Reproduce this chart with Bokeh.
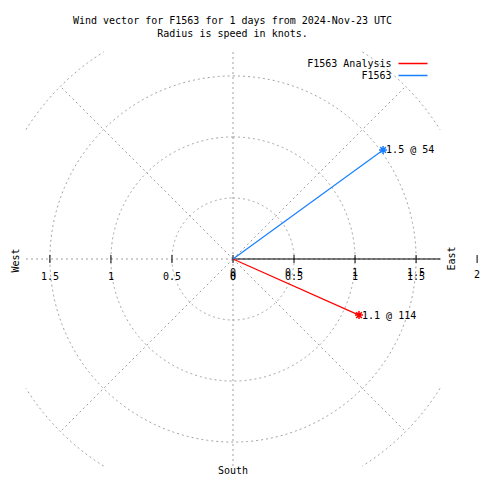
import numpy as np
from bokeh.plotting import figure
from bokeh.core.properties import value
from bokeh.embed import file_html
from bokeh.resources import INLINE

# ---- data ----
series_names = ["F1563 Analysis", "F1563"]
series_colors = ["#ff0000", "#1a80ff"]
speeds = [1.13, 1.52]          # knots
directions = [114, 54]         # degrees, from north clockwise
label_speeds = [1.1, 1.5]
ring_values = [0.5, 1.0, 1.5, 2.0]
spoke_angles = [0, 45, 90, 135, 180, 225, 270, 315]
left_ticks = [-1.5, -1.0, -0.5, 0.0]
left_tick_labels = ["1.5", "1", "0.5", "0"]
right_ticks = [0.0, 0.5, 1.0, 1.5]
right_tick_labels = ["0", "0.5", "1", "1.5"]
r_axis_tick = [2.0]
r_axis_tick_label = ["2"]
title_lines = ["Wind vector for F1563 for 1 days from 2024-Nov-23 UTC",
               "Radius is speed in knots."]
compass_labels = ["West", "East", "South"]

FONT = "DejaVu Sans Mono"
FS = "10px"
GRID = "#a0a0a0"
BOX = 1.7  # plot box half-size in knots

# layout: 122.06 px per knot, centre at canvas pixel (232.5, 258.5)
S = 415 / 3.4
CX, CY = 232.5, 258.5
W = H = 480
def dx(px):
    return (px - CX) / S
def dy(py):
    return (CY - py) / S

p = figure(width=W, height=H, x_range=(dx(0), dx(W)), y_range=(dy(H), dy(0)),
           toolbar_location=None, output_backend="svg",
           x_axis_location=None, y_axis_location=None, min_border=0)
p.grid.visible = False
p.outline_line_color = None
p.background_fill_color = "white"

# rings, clipped to the plot box
t = np.linspace(0, 2 * np.pi, 721)
for r in ring_values:
    xs = r * np.sin(t)
    ys = r * np.cos(t)
    mask = (np.abs(xs) > BOX) | (np.abs(ys) > BOX)
    xs = np.where(mask, np.nan, xs)
    ys = np.where(mask, np.nan, ys)
    p.line(xs, ys, line_color=GRID, line_dash="2 3", line_width=1)

# spokes, clipped to the plot box (drawn outward from centre)
ang = np.radians(spoke_angles)
rmax = max(ring_values)
for a in ang:
    re = min(rmax, BOX / max(abs(np.sin(a)), abs(np.cos(a))))
    p.line([0, re * np.sin(a)], [0, re * np.cos(a)], line_color=GRID,
           line_dash="2 3", line_width=1)

# radial axis (solid black to the right)
p.line([0, BOX], [0, 0], line_color="black", line_width=1.2)

# tick marks
all_ticks = left_ticks + right_ticks[1:] + r_axis_tick
p.scatter(x=all_ticks, y=[0] * len(all_ticks), marker="dash", angle=np.pi / 2,
          size=8, line_color="black", line_width=1)

# tick labels
def txt(x, y, text, align="center", baseline="middle", angle=0, **kw):
    p.text(x=x, y=y, text=text, angle=angle, text_font=value(FONT), text_font_size=FS,
           text_align=align, text_baseline=baseline, text_color="black", **kw)

txt(left_ticks, [dy(275.5)] * len(left_ticks), left_tick_labels)
txt(right_ticks, [dy(275.5)] * len(right_ticks), right_tick_labels)
txt(right_ticks, [dy(271.5)] * len(right_ticks), right_tick_labels)
txt(r_axis_tick, [dy(273)], r_axis_tick_label)

# wind vectors
rad = np.radians(directions)
ex = [s * np.sin(a) for s, a in zip(speeds, rad)]
ey = [s * np.cos(a) for s, a in zip(speeds, rad)]
for i in range(len(speeds)):
    p.line([0, ex[i]], [0, ey[i]], line_color=series_colors[i], line_width=1.2)
    p.scatter(x=[ex[i]], y=[ey[i]], marker="asterisk", size=8,
              line_color=series_colors[i], line_width=1.5)
vec_labels = [f"{s:.1f} @ {d}" for s, d in zip(label_speeds, directions)]
txt(ex, ey, vec_labels, align="left", x_offset=3)

# legend (text left, line right)
leg_y = [dy(63), dy(75)]
txt([dx(391)] * 2, leg_y, series_names, align="right")
for i in range(len(series_names)):
    p.line([dx(398), dx(427)], [leg_y[i], leg_y[i]],
           line_color=series_colors[i], line_width=1.5)

# titles
txt([dx(232)] * 2, [dy(20), dy(33)], title_lines)

# compass labels
txt([dx(15)], [dy(260)], [compass_labels[0]], angle=np.pi / 2)
txt([dx(451)], [dy(258)], [compass_labels[1]], angle=np.pi / 2)
txt([0], [dy(470)], [compass_labels[2]])

open("out.html", "w").write(file_html(p, INLINE))
